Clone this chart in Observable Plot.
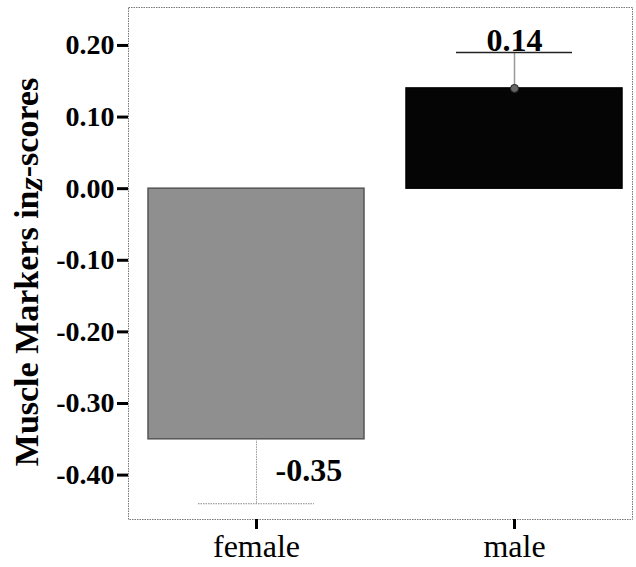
<!DOCTYPE html>
<html>
<head>
<meta charset="utf-8">
<script src="https://cdn.jsdelivr.net/npm/d3@7"></script>
<script src="https://cdn.jsdelivr.net/npm/@observablehq/plot@0.6"></script>
<style>
  html, body { margin: 0; padding: 0; background: #fff; }
  #chart svg { display: block; }
</style>
</head>
<body>
<div id="chart"></div>
<script>
// ---- data ----
const groups = ["female", "male"];
const means = [-0.35, 0.14];
const errorEnds = [-0.44, 0.19];
const valueLabels = ["-0.35", "0.14"];
const yTicks = [0.2, 0.1, 0.0, -0.1, -0.2, -0.3, -0.4];
const yTitleParts = ["Muscle Markers in", "z", "-scores"];

const data = groups.map((g, i) => ({
  group: g, mean: means[i], err: errorEnds[i], label: valueLabels[i]
}));
const female = data.filter(d => d.group === "female");
const male = data.filter(d => d.group === "male");

const serif = "'Liberation Serif', 'Times New Roman', serif";

const plot = Plot.plot({
  width: 636,
  height: 567,
  marginLeft: 128,
  marginRight: 4,
  marginTop: 7,
  marginBottom: 48,
  style: { fontFamily: serif, background: "#fff", color: "#000" },
  x: { domain: groups, paddingInner: 0.162, paddingOuter: 0.054, align: 0.68, label: null },
  y: { domain: [-0.462, 0.253], label: null },
  marks: [
    Plot.frame({ stroke: "#777", strokeDasharray: "1.5,1", strokeWidth: 1 }),
    Plot.barY(data, {
      x: "group", y: "mean",
      fill: d => d.group === "female" ? "#8f8f8f" : "#050505",
      stroke: d => d.group === "female" ? "#555" : "#000",
      strokeWidth: 1.5
    }),
    // female error bar (dotted)
    Plot.ruleX(female, { x: "group", y1: "mean", y2: "err", stroke: "#999", strokeDasharray: "1.5,1" }),
    Plot.tickY(female, { x: "group", y: "err", stroke: "#888", strokeDasharray: "1.5,1", insetLeft: 50, insetRight: 50 }),
    // male error bar
    Plot.ruleX(male, { x: "group", y1: "mean", y2: "err", stroke: "#999", strokeWidth: 1.5 }),
    Plot.tickY(male, { x: "group", y: "err", stroke: "#222", strokeWidth: 1.5, insetLeft: 50, insetRight: 50 }),
    Plot.dot(male, { x: "group", y: "mean", r: 4, fill: "#666", stroke: "#222", strokeWidth: 1 }),
    // value labels
    Plot.text(female, {
      x: "group", y: "mean", text: "label", textAnchor: "start", lineAnchor: "bottom",
      dx: 19, dy: 42, fontSize: 32, fontWeight: "bold", fill: "#000"
    }),
    Plot.text(male, {
      x: "group", y: "err", text: "label", textAnchor: "middle", lineAnchor: "bottom",
      dy: -2, fontSize: 32, fontWeight: "bold", fill: "#000"
    }),
    // axes
    Plot.axisY({
      ticks: yTicks, tickFormat: d => d.toFixed(2), tickSize: 11, tickPadding: 3,
      strokeWidth: 3, stroke: "#000", fontSize: 28, fontWeight: "bold", label: null
    }),
    Plot.axisX({
      tickSize: 10, strokeWidth: 3, stroke: "#000", tickPadding: 5, fontSize: 32, label: null
    })
  ]
});

const svg = d3.select(plot);
const title = svg.append("text")
  .attr("transform", "translate(38,272) rotate(-90)")
  .attr("text-anchor", "middle")
  .attr("font-family", serif)
  .attr("font-size", 34)
  .attr("font-weight", "bold")
  .attr("fill", "#000");
title.append("tspan").text(yTitleParts[0]);
title.append("tspan").attr("font-style", "italic").attr("dy", 4).text(yTitleParts[1]);
title.append("tspan").attr("dy", -4).text(yTitleParts[2]);

document.getElementById("chart").appendChild(plot);
</script>
</body>
</html>
